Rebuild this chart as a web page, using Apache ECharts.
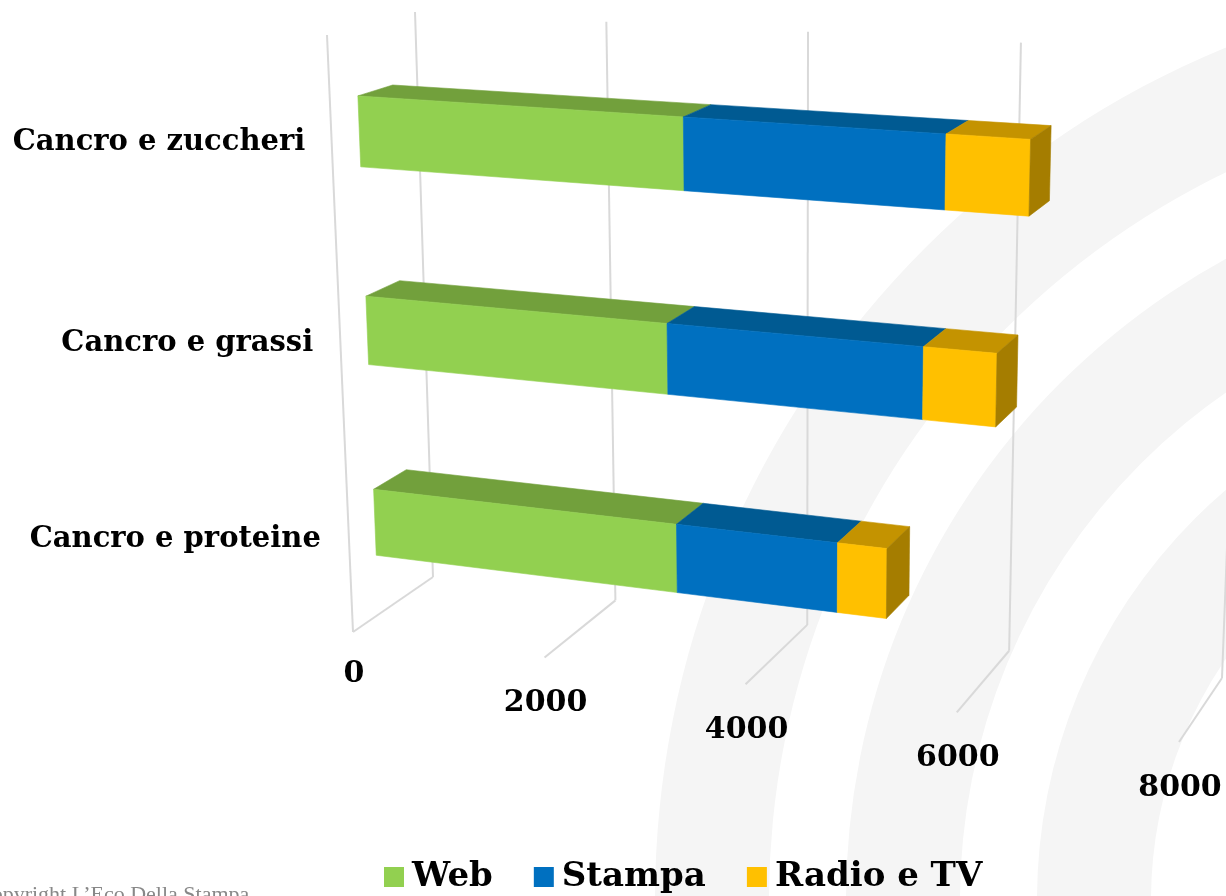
<!DOCTYPE html>
<html><head><meta charset="utf-8">
<style>html,body{margin:0;padding:0;background:#fff;overflow:hidden}#c{width:1226px;height:896px}</style>
<script src="https://cdn.jsdelivr.net/npm/echarts@6/dist/echarts.min.js"></script>
</head><body><div id="c"></div>
<script>
const categories = ['Cancro e zuccheri', 'Cancro e grassi', 'Cancro e proteine'];
const webValues = [3240, 3060, 3130];
const stampaValues = [2430, 2430, 1570];
const radioValues = [750, 670, 470];
const valueTicks = [0, 2000, 4000, 6000, 8000];

const FONT = '"DejaVu Serif"';
const G = {left: 100, top: 100, width: 800, height: 600};
// projected wall corners for depth 0 (front) and depth 1 (back): TL, TR, BR, BL
const Q0 = [[327,35],[1204,86],[1179,742],[353,632]];
const Q1 = [[415,12],[1246,54],[1222,678],[433,577]];
function homography(q){
  const [[x0,y0],[x1,y1],[x2,y2],[x3,y3]] = q;
  const dx1=x1-x2, dx2=x3-x2, sx=x0-x1+x2-x3, dy1=y1-y2, dy2=y3-y2, sy=y0-y1+y2-y3;
  const den=dx1*dy2-dx2*dy1, g=(sx*dy2-dx2*sy)/den, h=(dx1*sy-sx*dy1)/den;
  const a=x1-x0+g*x1, b=x3-x0+h*x3, d=y1-y0+g*y1, e=y3-y0+h*y3;
  return (s,t)=>{const w=g*s+h*t+1;return [(a*s+b*t+x0)/w,(d*s+e*t+y0)/w];};
}
function project(pt, z){
  const q = Q0.map((p,i)=>[p[0]+(Q1[i][0]-p[0])*z, p[1]+(Q1[i][1]-p[1])*z]);
  return homography(q)((pt[0]-G.left)/G.width,(pt[1]-G.top)/G.height);
}
const Z_FRONT=0.32, Z_BACK=0.72, BAR_FRAC=0.35, BAR_SHIFT=1.5;

function barRenderer(front, top, side){
  return function(params, api){
    const cat=api.value(0), a=api.coord([api.value(1),cat]), b=api.coord([api.value(2),cat]);
    const half=api.size([0,1])[1]*BAR_FRAC/2;
    const P=(p,dy,z)=>project([p[0],p[1]+dy+BAR_SHIFT],z);
    const poly=(pts,fill)=>({type:'polygon',shape:{points:pts},style:{fill:fill,stroke:fill,lineWidth:0.6}});
    const ch=[
      poly([P(a,-half,Z_BACK),P(b,-half,Z_BACK),P(b,-half,Z_FRONT),P(a,-half,Z_FRONT)],top),
      poly([P(a,-half,Z_FRONT),P(b,-half,Z_FRONT),P(b,half,Z_FRONT),P(a,half,Z_FRONT)],front)
    ];
    if(side) ch.push(poly([P(b,-half,Z_FRONT),P(b,-half,Z_BACK),P(b,half,Z_BACK),P(b,half,Z_FRONT)],side));
    return {type:'group',children:ch};
  };
}
function stackData(vals, before){
  return categories.map((c,i)=>{const s=before.reduce((t,arr)=>t+arr[i],0);return [i,s,s+vals[i]];});
}
function tickRenderer(params, api){
  const v=api.value(0), lines=[];
  const top=api.coord([v,categories[0]]), bot=api.coord([v,categories[2]]);
  const band=api.size([0,1])[1]/2;
  const T=[top[0],top[1]-band], B=[bot[0],bot[1]+band];
  const line=(p,q)=>({type:'line',shape:{x1:p[0],y1:p[1],x2:q[0],y2:q[1]},style:{stroke:'#d9d9d9',lineWidth:2}});
  lines.push(line(project(T,1),project(B,1)));
  lines.push(line(project(B,1),project(B,0)));
  if(v===0) lines.push(line(project(T,0),project(B,0)));
  const f=project(B,0);
  lines.push({type:'text',style:{text:String(v),x:f[0]+1,y:f[1]+(v===0?42:46),align:'center',verticalAlign:'middle',
    font:'bold 30px '+FONT,fill:'#000'}});
  return {type:'group',children:lines};
}
function catLabelRenderer(params, api){
  const i=api.value(0), p=api.coord([0,i]), f=project(p,Z_FRONT);
  return {type:'text',style:{text:categories[i],x:f[0]-54,y:f[1]+[13,14,18][i],align:'right',verticalAlign:'middle',
    font:'bold 29px '+FONT,fill:'#000'}};
}
const chart=echarts.init(document.getElementById('c'),null,{renderer:'canvas'});
const rings=[[922,808],[731,617],[540,426]].map(r=>({type:'ring',silent:true,z:-10,
  shape:{cx:1577,cy:900,r:r[0],r0:r[1]},style:{fill:'#f5f5f5'}}));
chart.setOption({
  animation:false,backgroundColor:'#fff',tooltip:{show:false},
  graphic:rings.concat([{type:'text',silent:true,z:-5,left:-23,top:884,
    style:{text:'Copyright L\u2019Eco Della Stampa',font:'22px "Liberation Serif"',fill:'#888'}}]),
  grid:{left:G.left,top:G.top,width:G.width,height:G.height},
  xAxis:{type:'value',min:0,max:8000,interval:2000,show:false},
  yAxis:{type:'category',data:categories,inverse:true,show:false},
  legend:{data:['Web','Stampa','Radio e TV'],left:379,top:855,itemWidth:20,itemHeight:20,itemGap:41,
    textStyle:{fontFamily:FONT,fontWeight:'bold',fontSize:34,color:'#000',padding:[0,0,0,3]},
    selectedMode:false,icon:'rect'},
  series:[
    {type:'custom',name:'grid',silent:true,z:1,renderItem:tickRenderer,data:valueTicks.map(v=>[v]),encode:{x:0}},
    {type:'custom',name:'labels',silent:true,z:1,renderItem:catLabelRenderer,data:categories.map((c,i)=>[i]),encode:{y:0}},
    {type:'custom',name:'Web',z:2,itemStyle:{color:'#92D050'},renderItem:barRenderer('#92D050','#72A03C'),data:stackData(webValues,[]),encode:{x:[1,2],y:0}},
    {type:'custom',name:'Stampa',z:2,itemStyle:{color:'#0070C0'},renderItem:barRenderer('#0070C0','#005A92'),data:stackData(stampaValues,[webValues]),encode:{x:[1,2],y:0}},
    {type:'custom',name:'Radio e TV',z:2,itemStyle:{color:'#FFC000'},renderItem:barRenderer('#FFC000','#C49300','#A57D00'),data:stackData(radioValues,[webValues,stampaValues]),encode:{x:[1,2],y:0}}
  ]
});
</script></body></html>
